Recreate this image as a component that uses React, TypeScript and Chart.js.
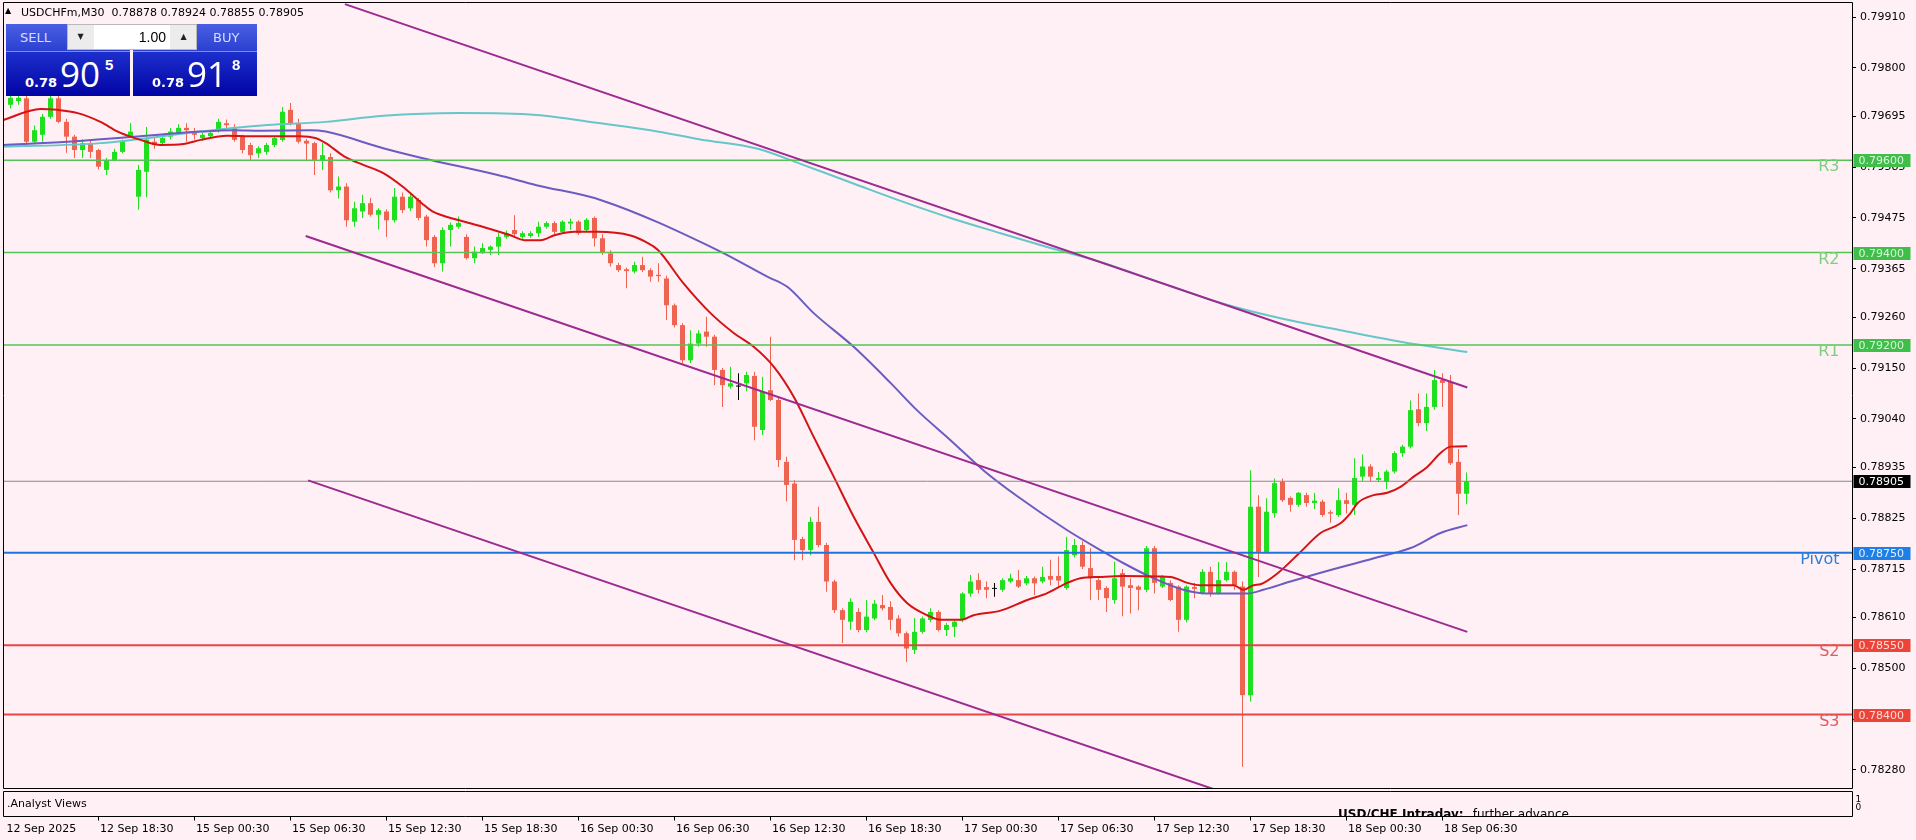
import React, { useEffect, useRef } from 'react';
import { Chart, registerables } from 'chart.js';

Chart.register(...registerables);

// ---------------- data ----------------
const SYMBOL = 'USDCHFm,M30';
const BID = 0.78905;
const ASK = 0.78918;
const LOT = '1.00';

// M30 candles, index 0 = 12 Sep 13:00 (approx)
const OPEN = [
  0.79720, 0.79728, 0.79734, 0.79640, 0.79655, 0.79694, 0.79734, 0.79683, 0.79651, 0.79622,
  0.79637, 0.79622, 0.79579, 0.79600, 0.79618, 0.79652, 0.79521, 0.79575, 0.79640, 0.79637,
  0.79651, 0.79659, 0.79670, 0.79662, 0.79648, 0.79652, 0.79665, 0.79680, 0.79670, 0.79651,
  0.79633, 0.79615, 0.79618, 0.79633, 0.79644, 0.79709, 0.79680, 0.79642, 0.79637, 0.79600,
  0.79607, 0.79535, 0.79543, 0.79467, 0.79489, 0.79507, 0.79482, 0.79489, 0.79470, 0.79521,
  0.79496, 0.79514, 0.79478, 0.79434, 0.79377, 0.79449, 0.79456, 0.79434, 0.79388, 0.79399,
  0.79406, 0.79413, 0.79434, 0.79449, 0.79434, 0.79436, 0.79442, 0.79456, 0.79464, 0.79445,
  0.79463, 0.79467, 0.79449, 0.79475, 0.79431, 0.79398, 0.79373, 0.79364, 0.79359, 0.79373,
  0.79362, 0.79352, 0.79344, 0.79286, 0.79243, 0.79167, 0.79203, 0.79229, 0.79218, 0.79146,
  0.79110, 0.79110, 0.79117, 0.79133, 0.79016, 0.79102, 0.79081, 0.78947, 0.78900, 0.78780,
  0.78756, 0.78817, 0.78767, 0.78688, 0.78626, 0.78601, 0.78622, 0.78583, 0.78608, 0.78637,
  0.78633, 0.78608, 0.78576, 0.78540, 0.78579, 0.78605, 0.78622, 0.78583, 0.78590, 0.78605,
  0.78662, 0.78691, 0.78676, 0.78672, 0.78670, 0.78688, 0.78691, 0.78684, 0.78695, 0.78688,
  0.78700, 0.78700, 0.78674, 0.78745, 0.78767, 0.78717, 0.78691, 0.78674, 0.78648, 0.78706,
  0.78680, 0.78677, 0.78670, 0.78760, 0.78677, 0.78685, 0.78677, 0.78605, 0.78676, 0.78663,
  0.78709, 0.78663, 0.78691, 0.78709, 0.78677, 0.78442, 0.78850, 0.78752, 0.78836, 0.78904,
  0.78869, 0.78854, 0.78875, 0.78858, 0.78861, 0.78838, 0.78832, 0.78864, 0.78854, 0.78915,
  0.78937, 0.78908, 0.78904, 0.78926, 0.78966, 0.78980, 0.79061, 0.79031, 0.79066, 0.79124,
  0.79120, 0.78947, 0.78878,
];
const HIGH = [
  0.79745, 0.79740, 0.79745, 0.79675, 0.79700, 0.79745, 0.79740, 0.79690, 0.79655, 0.79645,
  0.79645, 0.79625, 0.79605, 0.79625, 0.79645, 0.79680, 0.79590, 0.79672, 0.79648, 0.79655,
  0.79670, 0.79678, 0.79680, 0.79670, 0.79660, 0.79665, 0.79690, 0.79688, 0.79678, 0.79655,
  0.79638, 0.79630, 0.79638, 0.79652, 0.79715, 0.79724, 0.79690, 0.79646, 0.79640, 0.79637,
  0.79615, 0.79565, 0.79550, 0.79510, 0.79525, 0.79518, 0.79496, 0.79494, 0.79540, 0.79530,
  0.79528, 0.79518, 0.79482, 0.79438, 0.79455, 0.79465, 0.79478, 0.79440, 0.79413, 0.79420,
  0.79416, 0.79443, 0.79448, 0.79481, 0.79446, 0.79446, 0.79467, 0.79468, 0.79468, 0.79470,
  0.79474, 0.79470, 0.79475, 0.79478, 0.79440, 0.79405, 0.79378, 0.79368, 0.79380, 0.79391,
  0.79366, 0.79377, 0.79350, 0.79290, 0.79247, 0.79232, 0.79232, 0.79261, 0.79222, 0.79150,
  0.79153, 0.79139, 0.79142, 0.79142, 0.79131, 0.79218, 0.79085, 0.78958, 0.78907, 0.78785,
  0.78828, 0.78850, 0.78772, 0.78692, 0.78630, 0.78652, 0.78630, 0.78648, 0.78648, 0.78659,
  0.78645, 0.78615, 0.78580, 0.78609, 0.78612, 0.78630, 0.78626, 0.78598, 0.78605, 0.78665,
  0.78702, 0.78706, 0.78688, 0.78685, 0.78695, 0.78705, 0.78713, 0.78700, 0.78699, 0.78720,
  0.78735, 0.78742, 0.78785, 0.78780, 0.78775, 0.78760, 0.78695, 0.78678, 0.78731, 0.78715,
  0.78695, 0.78680, 0.78765, 0.78765, 0.78702, 0.78690, 0.78680, 0.78680, 0.78685, 0.78715,
  0.78720, 0.78730, 0.78730, 0.78712, 0.78688, 0.78929, 0.78875, 0.78868, 0.78911, 0.78911,
  0.78872, 0.78882, 0.78880, 0.78880, 0.78865, 0.78842, 0.78890, 0.78880, 0.78955, 0.78963,
  0.78942, 0.78925, 0.78930, 0.78970, 0.78984, 0.79080, 0.79095, 0.79095, 0.79146, 0.79139,
  0.79135, 0.78975, 0.78924,
];
const LOW = [
  0.79712, 0.79720, 0.79635, 0.79635, 0.79640, 0.79690, 0.79680, 0.79616, 0.79605, 0.79605,
  0.79605, 0.79580, 0.79568, 0.79598, 0.79615, 0.79648, 0.79493, 0.79520, 0.79625, 0.79632,
  0.79645, 0.79655, 0.79640, 0.79645, 0.79642, 0.79648, 0.79660, 0.79670, 0.79640, 0.79615,
  0.79600, 0.79605, 0.79612, 0.79628, 0.79640, 0.79675, 0.79636, 0.79600, 0.79568, 0.79579,
  0.79530, 0.79517, 0.79456, 0.79456, 0.79475, 0.79478, 0.79450, 0.79434, 0.79465, 0.79485,
  0.79490, 0.79470, 0.79413, 0.79369, 0.79359, 0.79413, 0.79452, 0.79385, 0.79377, 0.79397,
  0.79395, 0.79395, 0.79430, 0.79432, 0.79430, 0.79432, 0.79434, 0.79452, 0.79440, 0.79442,
  0.79449, 0.79438, 0.79445, 0.79413, 0.79395, 0.79370, 0.79358, 0.79323, 0.79355, 0.79358,
  0.79337, 0.79337, 0.79254, 0.79238, 0.79160, 0.79161, 0.79197, 0.79196, 0.79113, 0.79066,
  0.79106, 0.79081, 0.79100, 0.78994, 0.79005, 0.79078, 0.78936, 0.78861, 0.78734, 0.78734,
  0.78745, 0.78762, 0.78666, 0.78620, 0.78555, 0.78583, 0.78578, 0.78578, 0.78604, 0.78625,
  0.78583, 0.78569, 0.78514, 0.78531, 0.78575, 0.78600, 0.78580, 0.78570, 0.78568, 0.78600,
  0.78655, 0.78662, 0.78652, 0.78655, 0.78666, 0.78684, 0.78674, 0.78680, 0.78659, 0.78684,
  0.78680, 0.78675, 0.78670, 0.78740, 0.78715, 0.78648, 0.78648, 0.78622, 0.78640, 0.78613,
  0.78619, 0.78626, 0.78665, 0.78662, 0.78674, 0.78645, 0.78579, 0.78600, 0.78652, 0.78660,
  0.78655, 0.78660, 0.78688, 0.78670, 0.78287, 0.78428, 0.78698, 0.78748, 0.78826, 0.78860,
  0.78839, 0.78850, 0.78850, 0.78845, 0.78828, 0.78815, 0.78828, 0.78835, 0.78832, 0.78905,
  0.78905, 0.78903, 0.78888, 0.78922, 0.78958, 0.78976, 0.79024, 0.79014, 0.79060, 0.79066,
  0.78940, 0.78832, 0.78855,
];
const CLOSE = [
  0.79735, 0.79735, 0.79640, 0.79665, 0.79694, 0.79734, 0.79683, 0.79651, 0.79622, 0.79637,
  0.79618, 0.79586, 0.79600, 0.79618, 0.79640, 0.79662, 0.79579, 0.79645, 0.79633, 0.79648,
  0.79662, 0.79670, 0.79665, 0.79655, 0.79655, 0.79659, 0.79683, 0.79676, 0.79644, 0.79622,
  0.79611, 0.79626, 0.79633, 0.79648, 0.79705, 0.79680, 0.79640, 0.79636, 0.79600, 0.79611,
  0.79535, 0.79543, 0.79470, 0.79496, 0.79507, 0.79482, 0.79492, 0.79470, 0.79521, 0.79492,
  0.79521, 0.79475, 0.79427, 0.79377, 0.79449, 0.79460, 0.79464, 0.79388, 0.79402, 0.79410,
  0.79413, 0.79434, 0.79442, 0.79440, 0.79442, 0.79442, 0.79456, 0.79464, 0.79445, 0.79467,
  0.79467, 0.79442, 0.79471, 0.79431, 0.79400, 0.79377, 0.79362, 0.79360, 0.79373, 0.79362,
  0.79348, 0.79349, 0.79286, 0.79243, 0.79167, 0.79203, 0.79225, 0.79218, 0.79146, 0.79113,
  0.79117, 0.79110, 0.79135, 0.79023, 0.79099, 0.79081, 0.78951, 0.78897, 0.78778, 0.78756,
  0.78817, 0.78767, 0.78688, 0.78626, 0.78605, 0.78644, 0.78583, 0.78612, 0.78640, 0.78630,
  0.78605, 0.78576, 0.78543, 0.78579, 0.78608, 0.78622, 0.78583, 0.78594, 0.78601, 0.78662,
  0.78688, 0.78670, 0.78670, 0.78672, 0.78691, 0.78695, 0.78677, 0.78695, 0.78684, 0.78698,
  0.78692, 0.78690, 0.78756, 0.78767, 0.78720, 0.78695, 0.78670, 0.78652, 0.78695, 0.78677,
  0.78674, 0.78670, 0.78760, 0.78685, 0.78698, 0.78648, 0.78605, 0.78677, 0.78672, 0.78709,
  0.78663, 0.78691, 0.78709, 0.78680, 0.78442, 0.78850, 0.78752, 0.78839, 0.78901, 0.78864,
  0.78854, 0.78880, 0.78858, 0.78863, 0.78832, 0.78835, 0.78864, 0.78856, 0.78912, 0.78937,
  0.78915, 0.78912, 0.78926, 0.78966, 0.78980, 0.79059, 0.79031, 0.79066, 0.79124, 0.79118,
  0.78944, 0.78878, 0.78905,
];

// Moving averages (x = bar position, y = price)
const MA_FAST_X = [-0.9, 3.75, 5.9, 8.4, 11.25, 13.4, 15, 16.25, 18.75, 21.6, 23.75, 27.1, 30, 36.25, 38.1, 39.4, 41.75, 44.1, 46.6, 49, 51.4, 52.75, 56.1, 59, 62.4, 64.25, 66.25, 68.1, 70.5, 73.4, 77.5, 79.4, 80.9, 84.1, 87.5, 90.4, 92.9, 95.4, 97.9, 100.4, 102.9, 105.4, 107.9, 110, 112.1, 114.6, 116.25, 118.75, 120.4, 123.75, 127.1, 129.6, 132.1, 133.75, 136.25, 139.1, 145, 147.1, 148.75, 152.9, 154.1, 155.4, 156.25, 158.4, 161.25, 163.75, 166.25, 167.5, 168.4, 170.4, 172.1, 173.75, 175.4, 177.1, 178.75, 180, 182.1];
const MA_FAST_Y = [0.79687, 0.79711, 0.79709, 0.79702, 0.79683, 0.79662, 0.79651, 0.79644, 0.79633, 0.79635, 0.79644, 0.79653, 0.79652, 0.79652, 0.79648, 0.79637, 0.79608, 0.79590, 0.79572, 0.79543, 0.79507, 0.79489, 0.79470, 0.79456, 0.79438, 0.79427, 0.79427, 0.79438, 0.79445, 0.79445, 0.79437, 0.79423, 0.79406, 0.79334, 0.79269, 0.79226, 0.79196, 0.79153, 0.79088, 0.79001, 0.78915, 0.78828, 0.78750, 0.78685, 0.78641, 0.78615, 0.78605, 0.78605, 0.78615, 0.78625, 0.78648, 0.78663, 0.78685, 0.78695, 0.78698, 0.78700, 0.78698, 0.78685, 0.78680, 0.78680, 0.78670, 0.78680, 0.78682, 0.78706, 0.78752, 0.78793, 0.78814, 0.78836, 0.78858, 0.78875, 0.78880, 0.78893, 0.78915, 0.78936, 0.78966, 0.78980, 0.78981];

const MA_MID_X = [-0.9, 7.1, 15.4, 23.75, 27.9, 31.25, 37.5, 39.4, 46.6, 51.4, 60.9, 65.75, 73.75, 88.3, 94.6, 97.1, 100.4, 105.4, 110, 113.3, 117.5, 121.6, 125.9, 132.1, 136.25, 139.2, 142.5, 146.6, 149.6, 154.6, 156.6, 160, 165, 171.25, 175.4, 178.75, 182.1];
const MA_MID_Y = [0.79633, 0.79640, 0.79651, 0.79662, 0.79665, 0.79664, 0.79665, 0.79662, 0.79626, 0.79605, 0.79568, 0.79546, 0.79514, 0.79406, 0.79348, 0.79326, 0.79269, 0.79196, 0.79118, 0.79059, 0.78994, 0.78929, 0.78872, 0.78799, 0.78756, 0.78727, 0.78698, 0.78670, 0.78662, 0.78662, 0.78670, 0.78688, 0.78713, 0.78742, 0.78763, 0.78793, 0.78810];

const MA_SLOW_X = [-0.9, 11.25, 23.75, 32.1, 39.4, 46.6, 56.1, 65.75, 73.75, 80, 86.25, 93.4, 98.75, 105.6, 111.25, 117.5, 123.75, 130, 136.25, 143.75, 151.5, 158.75, 166.25, 173.75, 182.1];
const MA_SLOW_Y = [0.79629, 0.79637, 0.79662, 0.79676, 0.79683, 0.79696, 0.79702, 0.79698, 0.79680, 0.79665, 0.79645, 0.79625, 0.79592, 0.79548, 0.79512, 0.79475, 0.79442, 0.79410, 0.79380, 0.79335, 0.79290, 0.79258, 0.79232, 0.79207, 0.79185];

// Channel trend lines (two anchor points each)
const TREND_UPPER_X = [41.8, 182.1];
const TREND_UPPER_Y = [0.79938, 0.79108];
const TREND_MID_X = [36.9, 182.1];
const TREND_MID_Y = [0.79436, 0.78579];
const TREND_LOW_X = [37.2, 151];
const TREND_LOW_Y = [0.78907, 0.78235];

// Pivot levels
const LEVEL_NAMES = ['R3', 'R2', 'R1', 'Pivot', 'S2', 'S3'];
const LEVEL_VALUES = [0.796, 0.794, 0.792, 0.7875, 0.7855, 0.784];
const LEVEL_KIND = ['r', 'r', 'r', 'p', 's', 's'];

// Axis ticks
const Y_TICKS = [0.7991, 0.798, 0.79695, 0.79585, 0.79475, 0.79365, 0.7926, 0.7915, 0.7904, 0.78935, 0.78825, 0.78715, 0.7861, 0.785, 0.7839, 0.7828];
const X_TICK_POS = [-0.9375, 11, 23, 35, 47, 59, 71, 83, 95, 107, 119, 131, 143, 155, 167, 179];
const X_TICK_LABELS = ['12 Sep 2025', '12 Sep 18:30', '15 Sep 00:30', '15 Sep 06:30', '15 Sep 12:30', '15 Sep 18:30', '16 Sep 00:30', '16 Sep 06:30', '16 Sep 12:30', '16 Sep 18:30', '17 Sep 00:30', '17 Sep 06:30', '17 Sep 12:30', '17 Sep 18:30', '18 Sep 00:30', '18 Sep 06:30'];

const SUB_TITLE = '.Analyst Views';
const NOTE_HEAD = 'USD/CHF Intraday:';
const NOTE_TEXT = 'further advance.';

// ---------------- styles ----------------
const BG = '#FFF0F5';
const BULL = '#1ee01e';
const BEAR = '#ef6450';
const DOJI = '#000000';
const X_MIN = -0.9375;
const X_MAX = X_MIN + 231.125;
const Y_MIN = 0.78241;
const Y_MAX = 0.799425;
const FONT = '"DejaVu Sans"';
const LEVEL_STYLE: Record<string, { line: string; text: string; tag: string; tagText: string; width: number }> = {
  r: { line: '#55c455', text: '#7dcf7d', tag: '#3fbf4a', tagText: '#d9f7d9', width: 1.5 },
  p: { line: '#1f74dc', text: '#2b7fd8', tag: '#1e80e6', tagText: '#e3f0ff', width: 2 },
  s: { line: '#e84646', text: '#e25a5a', tag: '#ec4438', tagText: '#ffdcd6', width: 2 },
};

const decorPlugin = {
  id: 'decor',
  afterDraw(chart: any) {
    const { ctx, chartArea: ca } = chart;
    const xs = chart.scales.x;
    const ys = chart.scales.y;
    const L = Math.round(ca.left) + 0.5;
    const R = Math.round(ca.right) + 0.5;
    const T = Math.round(ca.top) + 0.5;
    const B = Math.round(ca.bottom) + 0.5;
    const s1 = B + 3;
    const s2 = B + 28;
    ctx.save();
    ctx.strokeStyle = '#000';
    ctx.lineWidth = 1;
    ctx.beginPath();
    ctx.rect(L, T, R - L, B - T);
    ctx.moveTo(L, s1);
    ctx.lineTo(R, s1);
    ctx.lineTo(R, s2);
    ctx.lineTo(L, s2);
    ctx.lineTo(L, s1);
    ctx.stroke();

    // sub window texts
    ctx.fillStyle = '#000';
    ctx.textAlign = 'left';
    ctx.textBaseline = 'alphabetic';
    ctx.font = `11px ${FONT}`;
    ctx.fillText(SUB_TITLE, 7, s1 + 15);
    ctx.font = `9px ${FONT}`;
    ctx.fillText('1', R + 3, s1 + 10);
    ctx.fillText('0', R + 3, s1 + 18);
    ctx.save();
    ctx.beginPath();
    ctx.rect(L + 1, s1 + 1, R - L - 1, s2 - s1 - 1);
    ctx.clip();
    ctx.font = `bold 12px ${FONT}`;
    ctx.fillText(NOTE_HEAD, 1338, s2 + 1);
    const w = ctx.measureText(NOTE_HEAD).width;
    ctx.font = `12px ${FONT}`;
    ctx.fillText(NOTE_TEXT, 1338 + w + 9, s2 + 1);
    ctx.restore();

    // time axis
    ctx.font = `11px ${FONT}`;
    ctx.fillStyle = '#000';
    X_TICK_POS.forEach((v, k) => {
      const px = Math.floor(xs.getPixelForValue(v)) + 0.5;
      if (k > 0) {
        ctx.beginPath();
        ctx.moveTo(px, s2);
        ctx.lineTo(px, s2 + 4);
        ctx.stroke();
      }
      ctx.fillText(X_TICK_LABELS[k], k === 0 ? L + 3 : px + 1.5, s2 + 15.5);
    });

    // level names & price tags
    LEVEL_VALUES.forEach((v, k) => {
      const st = LEVEL_STYLE[LEVEL_KIND[k]];
      const yy = Math.round(ys.getPixelForValue(v));
      ctx.font = `16px ${FONT}`;
      ctx.fillStyle = st.text;
      ctx.textAlign = 'right';
      ctx.textBaseline = 'top';
      ctx.fillText(LEVEL_NAMES[k], R - 13, yy - 1);
      ctx.fillStyle = st.tag;
      ctx.fillRect(R + 1, yy - 6, 57, 13);
      ctx.fillStyle = st.tagText;
      ctx.textAlign = 'left';
      ctx.textBaseline = 'middle';
      ctx.font = `11px ${FONT}`;
      ctx.fillText(v.toFixed(5), R + 6, yy + 1);
    });
    const py = Math.round(ys.getPixelForValue(BID));
    ctx.fillStyle = '#000';
    ctx.fillRect(R + 1, py - 6, 57, 13);
    ctx.fillStyle = '#fff';
    ctx.textAlign = 'left';
    ctx.textBaseline = 'middle';
    ctx.fillText(BID.toFixed(5), R + 6, py + 1);
    ctx.restore();
  },
};

function pts(xs: number[], ys: number[]) {
  return xs.map((x, k) => ({ x, y: ys[k] }));
}

function lineSet(data: any[], color: string, width: number, order: number, smooth = false) {
  return {
    type: 'line' as const,
    data,
    borderColor: color,
    borderWidth: width,
    pointRadius: 0,
    fill: false,
    order,
    cubicInterpolationMode: smooth ? ('monotone' as const) : ('default' as const),
    tension: 0,
  };
}

function Quote({ left, label, labelLeft, price }: { left: number; label: string; labelLeft: number; price: number }) {
  const s = price.toFixed(5);
  const big = s.slice(0, 4);
  const mid = s.slice(4, 6);
  const last = s.slice(6);
  return (
    <div style={{ position: 'absolute', left, top: 24, width: 124, height: 72, overflow: 'hidden' }}>
      <div style={{ position: 'absolute', left: 0, top: 0, width: 124, height: 27, background: 'linear-gradient(#4a5fe2,#2b40d0)' }} />
      <div style={{ position: 'absolute', left: 0, top: 27, width: 124, height: 1, background: '#7d8cf0' }} />
      <div style={{ position: 'absolute', left: 0, top: 28, width: 124, height: 44, background: 'linear-gradient(#1c2fcc,#0204a4)' }} />
      <div style={{ position: 'absolute', left: labelLeft, top: 7, fontFamily: FONT, fontSize: 13, lineHeight: '13px', color: '#d6dcff' }}>{label}</div>
      <div style={{ position: 'absolute', left: 19, top: 52, fontFamily: FONT, fontWeight: 'bold', fontSize: 13, lineHeight: '13px', color: '#fff' }}>{big}</div>
      <div style={{ position: 'absolute', left: 54, top: 32, fontFamily: '"Open Sans"', fontSize: 35, lineHeight: '35px', color: '#fff' }}>{mid}</div>
      <div style={{ position: 'absolute', left: 99, top: 33, fontFamily: '"Liberation Sans"', fontWeight: 'bold', fontSize: 15, lineHeight: '15px', color: '#fff' }}>{last}</div>
    </div>
  );
}

export default function App() {
  const ref = useRef<HTMLCanvasElement>(null);

  useEffect(() => {
    document.body.style.margin = '0';
    document.body.style.background = BG;
    const idx = OPEN.map((_, i) => i);
    const colors = idx.map((i) => (CLOSE[i] > OPEN[i] ? BULL : CLOSE[i] < OPEN[i] ? BEAR : DOJI));
    const wicks = idx.map((i) => ({ x: i, y: [LOW[i], HIGH[i]] }));
    const bodies = idx.map((i) => ({ x: i, y: [Math.min(OPEN[i], CLOSE[i]), Math.max(OPEN[i], CLOSE[i])] }));

    const levelSets = LEVEL_VALUES.map((v, k) => {
      const st = LEVEL_STYLE[LEVEL_KIND[k]];
      return lineSet([{ x: X_MIN, y: v }, { x: X_MAX, y: v }], st.line, st.width, 3);
    });

    const chart = new Chart(ref.current as HTMLCanvasElement, {
      type: 'bar',
      data: {
        datasets: [
          { type: 'bar', data: wicks as any, backgroundColor: colors, barThickness: 1, grouped: false, borderWidth: 0, minBarLength: 1, inflateAmount: 0, order: 20 } as any,
          { type: 'bar', data: bodies as any, backgroundColor: colors, barThickness: 5, grouped: false, borderWidth: 0, minBarLength: 1, inflateAmount: 0, order: 19 } as any,
          lineSet([{ x: X_MIN, y: BID }, { x: X_MAX, y: BID }], '#8a8a8a', 1, 4),
          ...levelSets,
          lineSet(pts(MA_SLOW_X, MA_SLOW_Y), '#66c6c8', 2, 8, true),
          lineSet(pts(MA_MID_X, MA_MID_Y), '#6a5cc2', 2, 7, true),
          lineSet(pts(MA_FAST_X, MA_FAST_Y), '#d41414', 2, 6, true),
          lineSet(pts(TREND_UPPER_X, TREND_UPPER_Y), '#9c2a90', 2, 2),
          lineSet(pts(TREND_MID_X, TREND_MID_Y), '#9c2a90', 2, 2),
          lineSet(pts(TREND_LOW_X, TREND_LOW_Y), '#9c2a90', 2, 2),
        ],
      },
      options: {
        animation: false,
        responsive: false,
        maintainAspectRatio: false,
        devicePixelRatio: 1,
        layout: { padding: { left: 3, top: 2, right: 0, bottom: 0 } },
        plugins: { legend: { display: false }, tooltip: { enabled: false } },
        scales: {
          x: {
            type: 'linear',
            min: X_MIN,
            max: X_MAX,
            offset: false,
            grid: { display: false, drawTicks: false },
            border: { display: false },
            ticks: { display: false },
            afterFit: (s: any) => {
              s.height = 52;
              s.paddingLeft = 0;
              s.paddingRight = 0;
            },
          },
          y: {
            type: 'linear',
            position: 'right',
            min: Y_MIN,
            max: Y_MAX,
            grid: { display: true, drawOnChartArea: false, drawTicks: true, tickLength: 4, color: '#000' },
            border: { display: false },
            ticks: {
              color: '#000',
              font: { family: 'DejaVu Sans', size: 11 },
              padding: 4,
              autoSkip: false,
              callback: (v: any) => Number(v).toFixed(5),
            },
            afterBuildTicks: (s: any) => {
              s.ticks = Y_TICKS.map((v) => ({ value: v }));
            },
            afterFit: (s: any) => {
              s.width = 64;
              s.paddingTop = 0;
              s.paddingBottom = 0;
            },
          },
        },
      } as any,
      plugins: [decorPlugin],
    });
    return () => chart.destroy();
  }, []);

  const last = OPEN.length - 1;
  const header = `${SYMBOL}  ${OPEN[last].toFixed(5)} ${HIGH[last].toFixed(5)} ${LOW[last].toFixed(5)} ${CLOSE[last].toFixed(5)}`;

  return (
    <div style={{ position: 'fixed', left: 0, top: 0, width: 1916, height: 840, background: BG, overflow: 'hidden' }}>
      <canvas ref={ref} width={1916} height={840} style={{ position: 'absolute', left: 0, top: 0, width: 1916, height: 840 }} />
      <div style={{ position: 'absolute', left: 5, top: 7, fontFamily: FONT, fontSize: 8, lineHeight: '8px', color: '#000' }}>▲</div>
      <div style={{ position: 'absolute', left: 21, top: 7, fontFamily: FONT, fontSize: 11, lineHeight: '11px', color: '#000', whiteSpace: 'pre' }}>{header}</div>
      <Quote left={6} label="SELL" labelLeft={14} price={BID} />
      <Quote left={133} label="BUY" labelLeft={80} price={ASK} />
      <div style={{ position: 'absolute', left: 67, top: 24, width: 130, height: 26, boxSizing: 'border-box', border: '1px solid #b9b9b9', background: '#ececec' }}>
        <div style={{ position: 'absolute', left: 0, top: 0, width: 25, height: 24, textAlign: 'center', fontSize: 8, lineHeight: '24px', fontFamily: FONT, color: '#222' }}>▼</div>
        <div style={{ position: 'absolute', left: 26, top: 0, width: 76, height: 24, background: '#fff', boxSizing: 'border-box', paddingRight: 4, textAlign: 'right', fontFamily: '"Liberation Sans"', fontSize: 14, lineHeight: '24px', color: '#000' }}>{LOT}</div>
        <div style={{ position: 'absolute', left: 103, top: 0, width: 25, height: 24, textAlign: 'center', fontSize: 8, lineHeight: '24px', fontFamily: FONT, color: '#222' }}>▲</div>
      </div>
    </div>
  );
}
